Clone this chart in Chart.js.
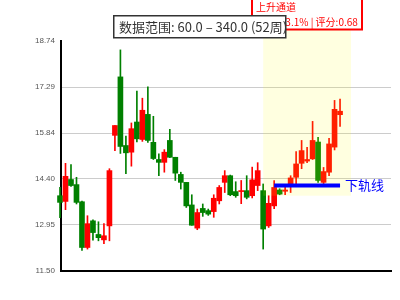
<!DOCTYPE html>
<html><head><meta charset="utf-8">
<script src="https://cdn.jsdelivr.net/npm/chart.js@4/dist/chart.umd.min.js"></script>
<style>html,body{margin:0;padding:0;background:#fff}canvas{display:block}</style>
</head><body>
<canvas id="c" width="400" height="300"></canvas>
<script>
// ---- data ----
const weeks = [1,2,3,4,5,6,7,8,9,10,11,12,13,14,15,16,17,18,19,20,21,22,23,24,25,26,
               27,28,29,30,31,32,33,34,35,36,37,38,39,40,41,42,43,44,45,46,47,48,49,50,51,52];
const opens  = [13.87,13.69,14.38,14.22,13.68,12.24,13.08,12.65,12.48,12.92,15.77,17.61,15.45,15.24,16.19,15.64,16.43,15.55,15.01,14.92,15.61,15.08,14.54,14.29,13.58,12.85,
                13.47,13.40,13.37,13.71,14.29,14.50,14.00,14.00,14.03,13.87,14.19,14.03,12.92,13.55,14.05,14.01,14.24,14.45,14.89,14.96,15.03,15.56,14.29,14.61,15.40,16.42];
const closes = [13.66,14.48,14.19,13.66,12.24,12.99,12.71,12.55,12.61,14.66,16.08,15.42,15.22,15.98,15.66,16.56,15.61,15.04,14.92,15.24,15.08,14.58,14.29,13.55,12.94,13.34,
                13.34,13.29,13.79,14.13,14.50,13.90,13.87,14.03,13.82,14.37,14.66,12.82,13.63,14.13,13.92,14.05,14.43,14.87,15.29,15.01,15.61,14.35,14.63,15.50,16.59,16.53];
const highs  = [14.13,14.89,14.85,14.45,13.70,13.24,13.11,13.05,12.99,14.72,16.08,18.46,15.75,16.16,17.16,16.94,17.30,16.37,15.19,15.32,15.96,15.08,14.61,14.29,13.90,13.45,
                13.61,13.45,13.90,14.19,14.66,14.52,14.31,14.35,14.50,14.77,14.91,14.24,13.87,14.35,14.09,14.19,14.50,15.26,15.61,15.39,16.21,15.71,14.76,15.68,16.87,16.91];
const lows   = [13.18,13.43,14.16,13.61,12.15,12.19,12.47,12.45,12.36,12.45,15.29,15.20,14.56,14.80,15.56,15.58,15.55,15.01,14.50,14.61,15.07,14.35,14.08,13.50,12.94,12.80,
                13.22,13.25,13.19,13.61,13.97,13.87,13.82,13.62,13.77,13.80,14.03,12.19,12.87,13.46,13.90,13.90,13.97,14.24,14.72,14.91,15.01,14.29,14.25,14.50,15.31,16.05];
const yTicks = [11.50, 12.95, 14.40, 15.84, 17.29, 18.74];
const titleText = '数据范围: 60.0 – 340.0 (52周)';
const channelName = '上升通道';
const channelInfo = '涨幅:23.1% | 评分:0.68';
const channelWeeks = [37, 53];        // index range of the shaded channel
const channelPrices = [13.87, 19.10]; // price range of the shaded channel
const lowerLineWeeks = [39, 51];
const lowerLineValue = 14.19;
const lowerLineLabel = '下轨线';

const UP = '#ff0000', DOWN = '#008000';
const colors = weeks.map((w, i) => closes[i] >= opens[i] ? UP : DOWN);

const overlay = {
  id: 'overlay',
  afterDatasetsDraw(chart) {
    const {ctx, scales: {x, y}} = chart;
    ctx.save();
    // shaded channel (over candles)
    const x0 = x.getPixelForValue(channelWeeks[0]), x1 = x.getPixelForValue(channelWeeks[1]);
    const y0 = y.getPixelForValue(channelPrices[1]), y1 = y.getPixelForValue(channelPrices[0]);
    ctx.fillStyle = 'rgba(255,255,0,0.12)';
    ctx.fillRect(x0, y0, x1 - x0, y1 - y0);
    // lower rail line
    const ly = y.getPixelForValue(lowerLineValue);
    const lx0 = x.getPixelForValue(lowerLineWeeks[0]), lx1 = x.getPixelForValue(lowerLineWeeks[1]);
    ctx.strokeStyle = '#0000ff';
    ctx.lineWidth = 4;
    ctx.beginPath(); ctx.moveTo(lx0, ly); ctx.lineTo(lx1, ly); ctx.stroke();
    ctx.fillStyle = '#0000ff';
    ctx.font = '13px "Noto Sans CJK SC", sans-serif';
    ctx.textBaseline = 'middle';
    ctx.fillText(lowerLineLabel, lx1 + 5, ly);
    ctx.restore();
  },
  afterDraw(chart) {
    const ctx = chart.ctx;
    ctx.save();
    // red channel box
    ctx.fillStyle = '#fff';
    ctx.fillRect(251, -2, 112, 31.5);
    ctx.strokeStyle = '#ff0000';
    ctx.lineWidth = 2;
    ctx.strokeRect(252, -2, 110, 31.5);
    ctx.fillStyle = '#ff0000';
    ctx.textBaseline = 'middle';
    ctx.font = '10px "Noto Sans CJK SC", sans-serif';
    ctx.fillText(channelName, 256, 7);
    ctx.font = '10px "Noto Sans CJK SC", sans-serif';
    ctx.fillText(channelInfo, 257, 22);
    // title box
    ctx.fillStyle = '#fff';
    ctx.fillRect(113, 15, 173, 23);
    ctx.strokeStyle = '#333';
    ctx.lineWidth = 1.5;
    ctx.strokeRect(113.75, 15.75, 172, 22);
    ctx.fillStyle = '#333';
    ctx.font = '13px "Noto Sans CJK SC", sans-serif';
    ctx.fillText(titleText, 119, 27);
    ctx.restore();
  }
};

new Chart(document.getElementById('c'), {
  type: 'bar',
  data: {
    datasets: [
      { label: 'wick', data: weeks.map((w, i) => ({x: i, y: [lows[i], highs[i]]})),
        backgroundColor: colors, barThickness: 1, grouped: false, clip: false, order: 2, borderWidth: 0 },
      { label: 'body', data: weeks.map((w, i) => ({x: i, y: [opens[i], closes[i]]})),
        backgroundColor: colors, barThickness: 5, grouped: false, clip: false, order: 1, borderWidth: 0, minBarLength: 1 }
    ]
  },
  options: {
    responsive: false, animation: false,
    layout: {padding: {top: 41, right: 9, bottom: 21, left: 0}},
    plugins: {legend: {display: false}, tooltip: {enabled: false}},
    scales: {
      x: { type: 'linear', min: 0.18, max: 60.28, offset: false,
           ticks: {display: false}, grid: {display: false},
           border: {display: true, color: '#000', width: 2} },
      y: { min: 11.5, max: 18.74,
           afterBuildTicks: s => { s.ticks = yTicks.map(v => ({value: v})); },
           afterFit: s => { s.width = 61; },
           ticks: { callback: v => v.toFixed(2), font: {size: 8, family: 'Liberation Sans, Arial'}, color: '#555', padding: 6 },
           grid: { color: c => (c.tick && c.tick.value === 18.74) ? 'rgba(0,0,0,0)' : '#cccccc', drawTicks: false },
           border: {display: true, color: '#000', width: 2} }
    }
  },
  plugins: [overlay]
});
</script>
</body></html>
